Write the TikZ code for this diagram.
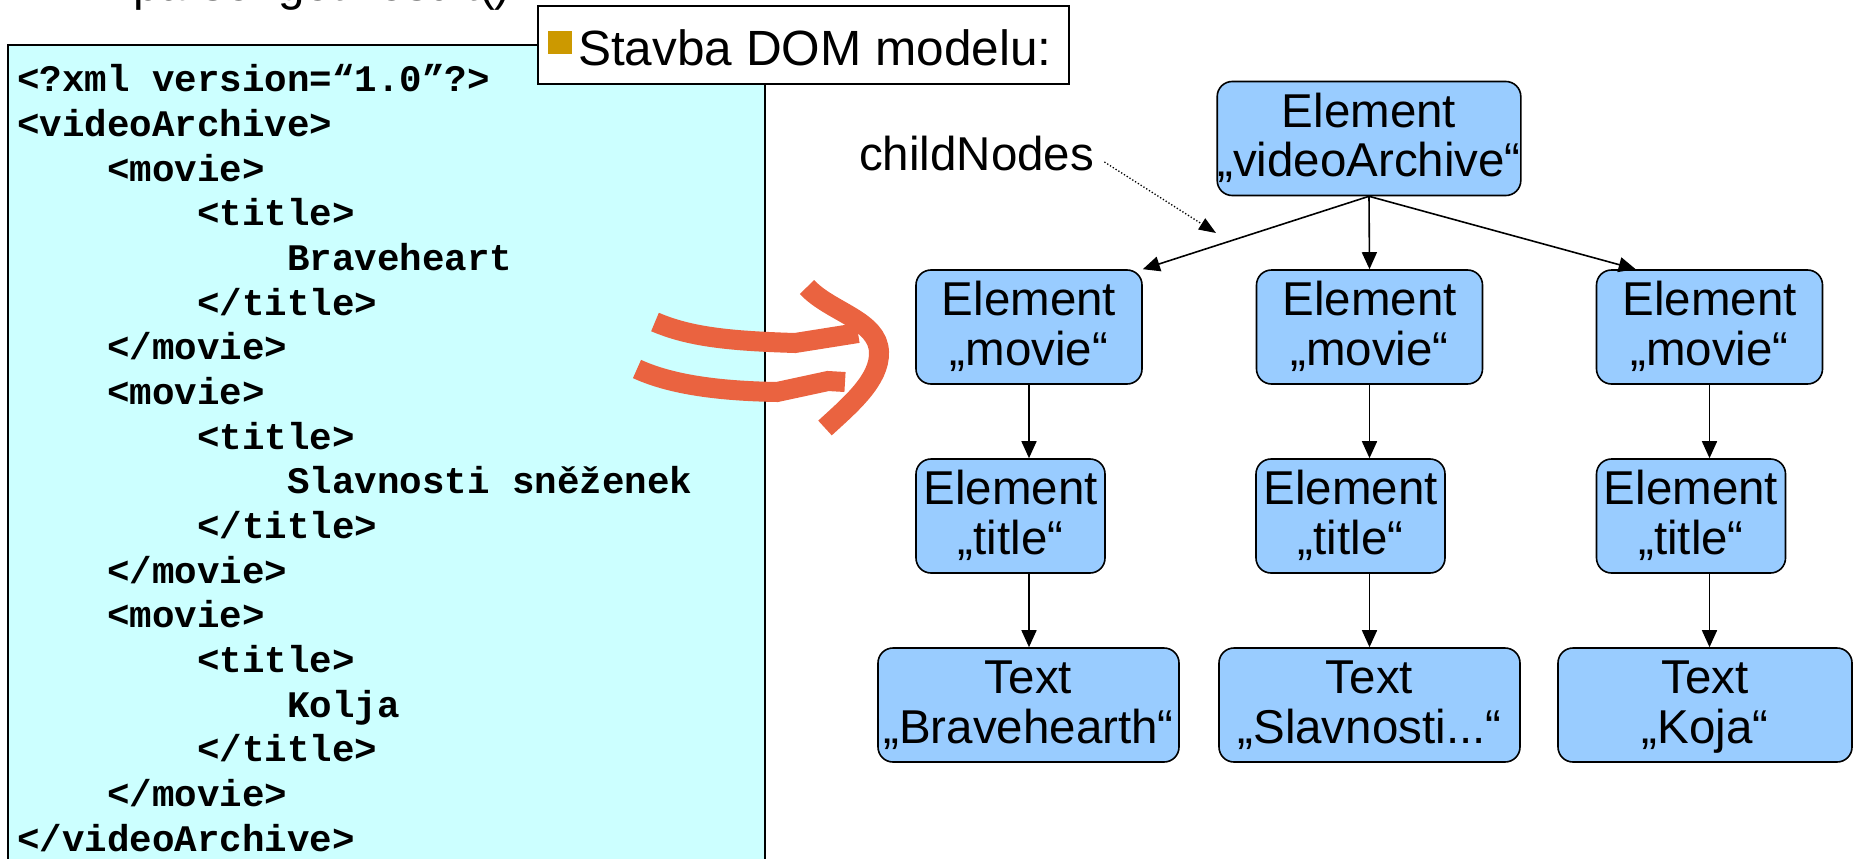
\documentclass[tikz,border=0pt]{standalone}
\usepackage{fontspec}
\setmainfont{Liberation Sans}
\setmonofont{Liberation Mono}
\usetikzlibrary{arrows.meta,calc}

\definecolor{codebg}{RGB}{204,255,255}
\definecolor{nodeblue}{RGB}{153,204,255}
\definecolor{flow}{RGB}{234,99,64}
\definecolor{bulletgold}{RGB}{204,153,0}

\newcommand\domfont{\fontsize{47.5pt}{49.5pt}\selectfont}
\newcommand\capfont{\fontsize{49.5pt}{52pt}\selectfont}
\newcommand\codefont{\fontsize{37.5pt}{44.65pt}\selectfont\ttfamily\bfseries}
% two-line node text with the same vertical extent in every box
\newcommand\twolines[2]{\smash{#1}\vphantom{E}\\\smash{#2}\vphantom{E„}}

\begin{document}
\begin{tikzpicture}[x=1pt,y=-1pt,
  dom/.style={draw=black, line width=1.6pt, rounded corners=15pt, fill=nodeblue,
    align=center, inner sep=0pt, font=\domfont, minimum height=114pt},
  elemmovie/.style={dom, minimum width=226pt},
  elemtitle/.style={dom, minimum width=189pt},
  textnode/.style={dom, minimum width=301pt},
  conn/.style={line width=1.6pt, -{Triangle[length=17pt,width=15pt]}},
  codeline/.style={anchor=base west, inner sep=0pt, font=\codefont},
  plaintext/.style={anchor=base west, inner sep=0pt, font=\domfont},
  flowline/.style={draw=flow, line width=20pt}]

\useasboundingbox (0,0) rectangle (1855,859);
\begin{scope}
\clip (0,0) rectangle (1855,859);

% heading line running off the top edge
\node[plaintext] (p0) at (133,1) {parser.getResult()};

% XML source panel
\draw[fill=codebg, line width=2pt] (8,45) rectangle (765,880);
\node[codeline] (c0)  at (17,92)     {<?xml version=“1.0”?>};
\node[codeline] (c1)  at (17,136.6)  {<videoArchive>};
\node[codeline] (c2)  at (107,181.3) {<movie>};
\node[codeline] (c3)  at (197,225.9) {<title>};
\node[codeline] (c4)  at (287,270.6) {Braveheart};
\node[codeline] (c5)  at (197,315.2) {</title>};
\node[codeline] (c6)  at (107,359.9) {</movie>};
\node[codeline] (c7)  at (107,404.5) {<movie>};
\node[codeline] (c8)  at (197,449.2) {<title>};
\node[codeline] (c9)  at (287,493.8) {Slavnosti sněženek};
\node[codeline] (c10) at (197,538.5) {</title>};
\node[codeline] (c11) at (107,583.1) {</movie>};
\node[codeline] (c12) at (107,627.8) {<movie>};
\node[codeline] (c13) at (197,672.4) {<title>};
\node[codeline] (c14) at (287,717.1) {Kolja};
\node[codeline] (c15) at (197,761.7) {</title>};
\node[codeline] (c16) at (107,806.4) {</movie>};
\node[codeline] (c17) at (17,851)    {</videoArchive>};

% caption box
\draw[fill=white, line width=1.6pt] (538,6) rectangle (1069,84);
\fill[bulletgold] (548,31) rectangle (572,54);
\node[plaintext, font=\capfont] (cap) at (578,66) {Stavba DOM modelu:};

% hand-drawn double arrow
\draw[flowline] (655,322) .. controls (690,337) and (730,341) .. (795,343) -- (858,333);
\draw[flowline] (637,369) .. controls (672,385) and (720,391) .. (777,392) -- (828,381) -- (845,382);
\draw[flowline] (807,287) .. controls (830,312) and (878,320) .. (879,352)
                          .. controls (880,380) and (850,405) .. (825,428);

% DOM tree
\node[dom, minimum width=302pt] (root) at (1369,138.5) {\twolines{Element}{„videoArchive“}};

\node[elemmovie] (m1) at (1029,327)   {\twolines{Element}{„movie“}};
\node[elemmovie] (m2) at (1369.5,327) {\twolines{Element}{„movie“}};
\node[elemmovie] (m3) at (1709.5,327) {\twolines{Element}{„movie“}};

\node[elemtitle] (t1) at (1010.5,516) {\twolines{Element}{„title“}};
\node[elemtitle] (t2) at (1350.5,516) {\twolines{Element}{„title“}};
\node[elemtitle] (t3) at (1691,516)   {\twolines{Element}{„title“}};

\node[textnode] (x1) at (1028.5,705) {\twolines{Text}{„Bravehearth“}};
\node[textnode] (x2) at (1369.5,705) {\twolines{Text}{„Slavnosti...“}};
\node[textnode, minimum width=294pt] (x3) at (1705,705) {\twolines{Text}{„Koja“}};

\draw[conn] (root.south) -- (m1.north east);
\draw[conn] (root.south) -- (m2.north);
\draw[conn] (root.south) -- ([xshift=40pt]m3.north west);

\draw[conn] (m1.south) -- (m1.south |- t1.north);
\draw[conn] (m2.south) -- (m2.south |- t2.north);
\draw[conn] (m3.south) -- (m3.south |- t3.north);

\draw[conn] (m1.south |- t1.south) -- (m1.south |- x1.north);
\draw[conn] (m2.south |- t2.south) -- (m2.south |- x2.north);
\draw[conn] (m3.south |- t3.south) -- (m3.south |- x3.north);

% label for the child links
\node[plaintext] (cn) at (859,170) {childNodes};
\coordinate (cnTip) at (1216,233);
\draw[line width=1.3pt, dotted, -{Triangle[length=17pt,width=13pt]}]
  ([xshift=10pt,yshift=8pt]cn.base east) -- (cnTip);

\end{scope}
\end{tikzpicture}
\end{document}
